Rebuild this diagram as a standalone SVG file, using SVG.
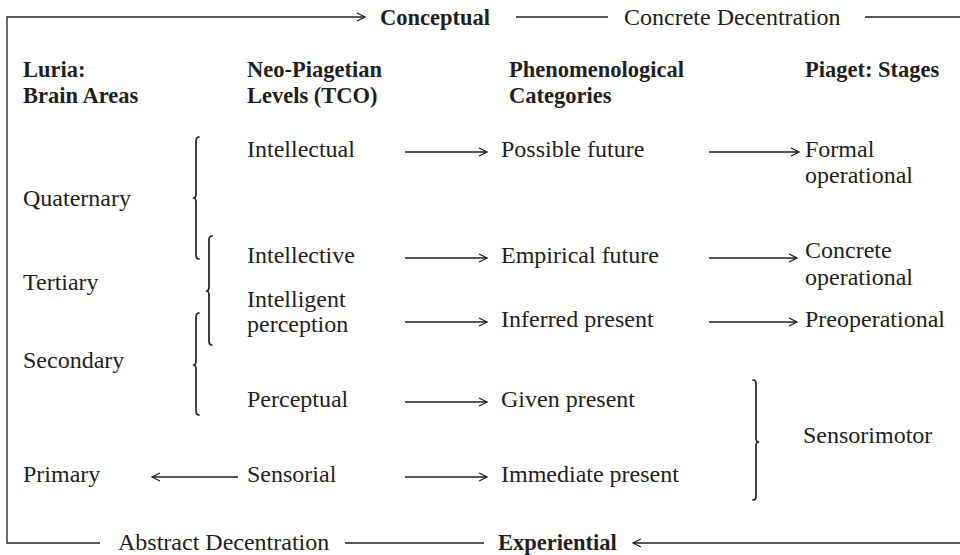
<svg xmlns="http://www.w3.org/2000/svg" width="960" height="555" viewBox="0 0 960 555">
<style>
text{font-family:"Liberation Serif","Times New Roman",serif;fill:#231f20;font-size:24px}
.b{font-weight:bold;font-size:22.5px}
.ln{fill:none;stroke:#231f20;stroke-width:1.3}
.br{fill:none;stroke:#231f20;stroke-width:1.7;stroke-linecap:round;stroke-linejoin:round}
</style>
<defs>
<marker id="ah" markerWidth="10" markerHeight="10" refX="9" refY="5" orient="auto" markerUnits="userSpaceOnUse">
<path d="M1,1 L9,5 L1,9" fill="none" stroke="#231f20" stroke-width="1.2"/>
</marker>
</defs>
<rect width="960" height="555" fill="#fff"/>

<g id="connectors">
<path class="ln" d="M100,543 H7 V17 H365" marker-end="url(#ah)"/>
<path class="ln" d="M516,17 H608"/>
<path class="ln" d="M865,17 H960"/>
<path class="ln" d="M345,543 H484"/>
<path class="ln" d="M960,543 H633" marker-end="url(#ah)"/>
<path class="ln" d="M405,152 H487" marker-end="url(#ah)"/>
<path class="ln" d="M709,152 H799" marker-end="url(#ah)"/>
<path class="ln" d="M405,258 H487" marker-end="url(#ah)"/>
<path class="ln" d="M709,258 H797" marker-end="url(#ah)"/>
<path class="ln" d="M405,322 H487" marker-end="url(#ah)"/>
<path class="ln" d="M709,322 H797" marker-end="url(#ah)"/>
<path class="ln" d="M405,402 H487" marker-end="url(#ah)"/>
<path class="ln" d="M405,477 H487" marker-end="url(#ah)"/>
<path class="ln" d="M238,477 H152" marker-end="url(#ah)"/>
</g>

<g id="braces">
<path class="br" d="M199,137 Q196,137 196,141 V194 Q196,198 193.5,198 Q196,198 196,202 V255 Q196,259 199,259"/>
<path class="br" d="M212,236 Q209,236 209,240 V287 Q209,291 206.5,291 Q209,291 209,295 V341 Q209,345 212,345"/>
<path class="br" d="M199,313 Q196,313 196,317 V361 Q196,365 193.5,365 Q196,365 196,369 V411 Q196,415 199,415"/>
<path class="br" d="M753,380 Q756,380 756,384 V438 Q756,442 758.5,442 Q756,442 756,446 V496 Q756,500 753,500"/>
</g>

<g id="axis-top">
<text class="b" x="380" y="25">Conceptual</text>
<text x="624" y="25">Concrete Decentration</text>
</g>
<g id="axis-bottom">
<text x="118" y="550">Abstract Decentration</text>
<text class="b" x="498" y="550">Experiential</text>
</g>

<g id="header-luria"><text class="b" x="23" y="77">Luria:</text><text class="b" x="23" y="103">Brain Areas</text></g>
<g id="header-neo"><text class="b" x="247" y="77">Neo-Piagetian</text><text class="b" x="247" y="103">Levels (TCO)</text></g>
<g id="header-phen"><text class="b" x="509" y="77">Phenomenological</text><text class="b" x="509" y="103">Categories</text></g>
<g id="header-piaget"><text class="b" x="805" y="77">Piaget: Stages</text></g>

<g id="quaternary"><text x="23" y="206">Quaternary</text></g>
<g id="tertiary"><text x="23" y="290">Tertiary</text></g>
<g id="secondary"><text x="23" y="368">Secondary</text></g>
<g id="primary"><text x="23" y="482">Primary</text></g>

<g id="intellectual"><text x="247" y="157">Intellectual</text></g>
<g id="intellective"><text x="247" y="263">Intellective</text></g>
<g id="intelligent-perception"><text x="247" y="307">Intelligent</text><text x="247" y="332">perception</text></g>
<g id="perceptual"><text x="247" y="407">Perceptual</text></g>
<g id="sensorial"><text x="247" y="482">Sensorial</text></g>

<g id="possible-future"><text x="501" y="157">Possible future</text></g>
<g id="empirical-future"><text x="501" y="263">Empirical future</text></g>
<g id="inferred-present"><text x="501" y="327">Inferred present</text></g>
<g id="given-present"><text x="501" y="407">Given present</text></g>
<g id="immediate-present"><text x="501" y="482">Immediate present</text></g>

<g id="formal-operational"><text x="805" y="157">Formal</text><text x="805" y="183">operational</text></g>
<g id="concrete-operational"><text x="805" y="258">Concrete</text><text x="805" y="285">operational</text></g>
<g id="preoperational"><text x="805" y="327">Preoperational</text></g>
<g id="sensorimotor"><text x="803" y="443">Sensorimotor</text></g>
</svg>
